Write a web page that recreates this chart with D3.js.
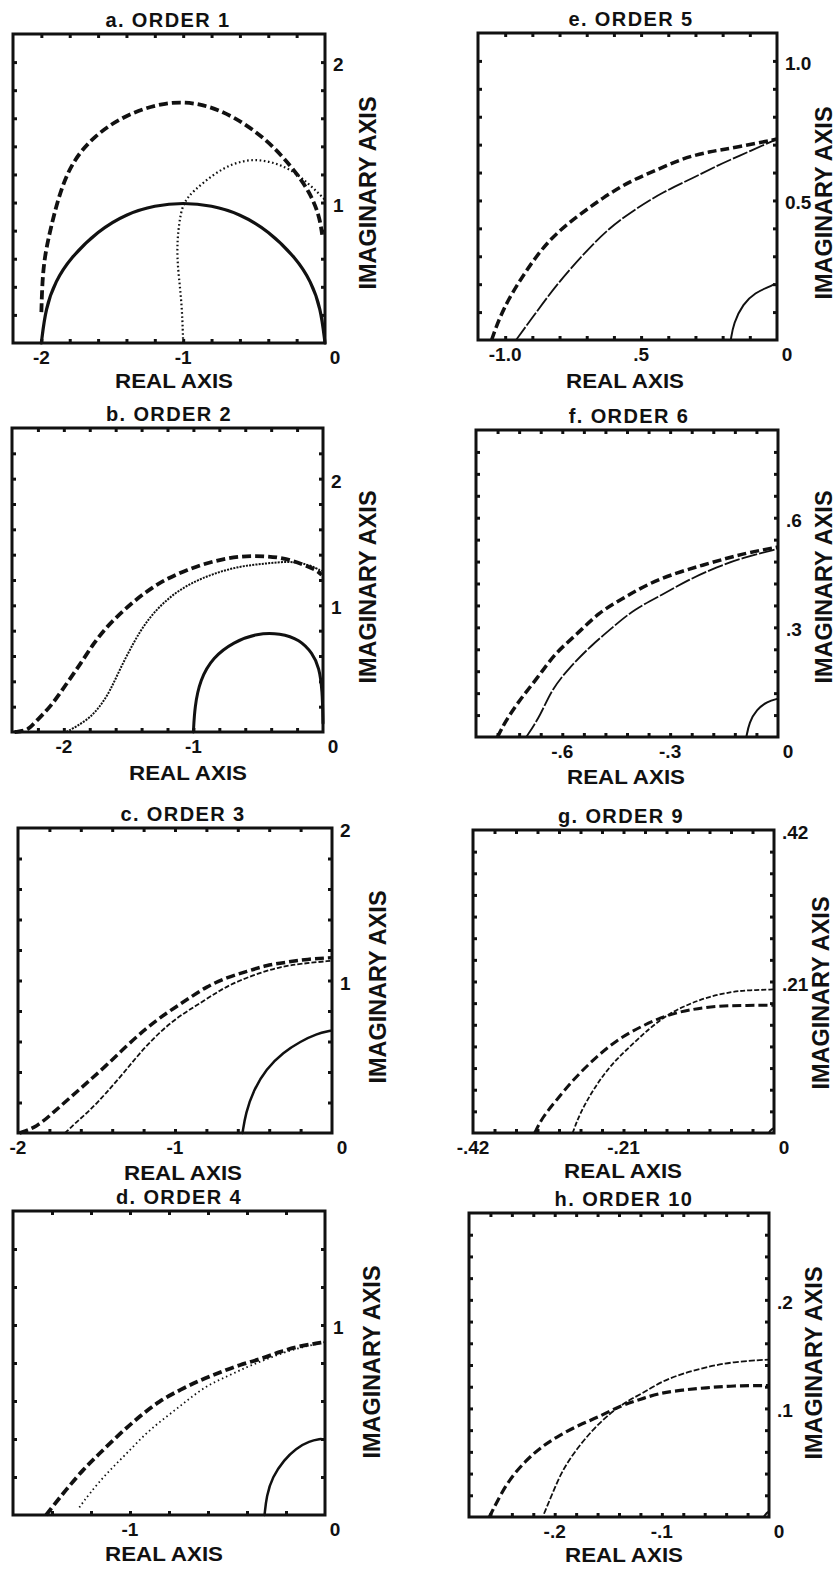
<!DOCTYPE html>
<html>
<head>
<meta charset="utf-8">
<script src="https://cdn.jsdelivr.net/npm/d3@7"></script>
<style>
  body { margin: 0; background: #fff; }
  svg text { font-family: "Liberation Sans", Arial, sans-serif; font-weight: bold; fill: #111; }
</style>
</head>
<body>
<svg id="chart" width="836" height="1570"></svg>
<script>
/* panel titles, axis extents and labels */
const titles = ["a. ORDER 1", "b. ORDER 2", "c. ORDER 3", "d. ORDER 4",
                "e. ORDER 5", "f. ORDER 6", "g. ORDER 9", "h. ORDER 10"];
const extents = [2.2, 2.4, 2, 1.6, 1.1, 0.84, 0.42, 0.28];
const minorSteps = [0.2, 0.2, 0.2, 0.2, 0.1, 0.06, 0.03, 0.02];
const xTickValues = [[-2, -1, 0], [-2, -1, 0], [-2, -1, 0], [-1, 0],
                     [-1, -0.5, 0], [-0.6, -0.3, 0], [-0.42, -0.21, 0], [-0.2, -0.1, 0]];
const xTickLabels = [["-2", "-1", "0"], ["-2", "-1", "0"], ["-2", "-1", "0"], ["-1", "0"],
                     ["-1.0", ".5", "0"], ["-.6", "-.3", "0"], ["-.42", "-.21", "0"], ["-.2", "-.1", "0"]];
const yTickValues = [[1, 2], [1, 2], [1, 2], [1], [0.5, 1.0], [0.3, 0.6], [0.21, 0.42], [0.1, 0.2]];
const yTickLabels = [["1", "2"], ["1", "2"], ["1", "2"], ["1"], ["0.5", "1.0"], [".3", ".6"], [".21", ".42"], [".1", ".2"]];

/* curves: [real, imaginary] */
const aDashed = [[-2.0, 0.22], [-1.99, 0.55], [-1.94, 0.8], [-1.83, 1.23], [-1.64, 1.47], [-1.4, 1.63],
  [-1.12, 1.72], [-0.88, 1.71], [-0.65, 1.62], [-0.41, 1.45], [-0.23, 1.25], [-0.11, 1.08], [-0.04, 0.91], [-0.02, 0.77]];
const aDotted = [[-1.0, 0], [-1.01, 0.31], [-1.05, 0.62], [-1.03, 0.86], [-1.0, 1.0], [-0.93, 1.08], [-0.79, 1.2],
  [-0.65, 1.28], [-0.51, 1.31], [-0.37, 1.29], [-0.23, 1.23], [-0.11, 1.13], [0, 1.02]];
const aSolid = [[-2.0, 0], [-1.97, 0.25], [-1.9, 0.44], [-1.8, 0.6], [-1.6, 0.8], [-1.4, 0.92], [-1.2, 0.98],
  [-1.0, 1.0], [-0.8, 0.98], [-0.6, 0.92], [-0.4, 0.8], [-0.2, 0.6], [-0.1, 0.44], [-0.03, 0.25], [0, 0]];

const bDashed = [[-2.38, 0], [-2.28, 0.01], [-2.23, 0.07], [-2.1, 0.2], [-1.98, 0.38], [-1.87, 0.54], [-1.77, 0.7],
  [-1.67, 0.83], [-1.54, 0.96], [-1.39, 1.09], [-1.23, 1.2], [-1.05, 1.28], [-0.85, 1.35], [-0.64, 1.39],
  [-0.44, 1.39], [-0.28, 1.37], [-0.15, 1.32], [-0.05, 1.28], [-0.01, 1.24]];
const bDotted = [[-1.98, 0], [-1.82, 0.09], [-1.72, 0.2], [-1.64, 0.33], [-1.57, 0.49], [-1.49, 0.65], [-1.41, 0.8],
  [-1.31, 0.94], [-1.18, 1.07], [-1.03, 1.17], [-0.85, 1.25], [-0.64, 1.31], [-0.44, 1.33], [-0.26, 1.35],
  [-0.1, 1.32], [-0.01, 1.27]];
const bSolid = [[-1.0, 0], [-0.99, 0.2], [-0.95, 0.41], [-0.85, 0.59], [-0.69, 0.71], [-0.51, 0.78], [-0.33, 0.78],
  [-0.18, 0.73], [-0.08, 0.62], [-0.03, 0.51], [-0.005, 0.33], [0, 0.07]];

const cDashed = [[-1.99, 0], [-1.88, 0.04], [-1.78, 0.13], [-1.67, 0.23], [-1.56, 0.33], [-1.44, 0.44], [-1.31, 0.57],
  [-1.18, 0.69], [-1.05, 0.79], [-0.93, 0.87], [-0.8, 0.96], [-0.67, 1.02], [-0.54, 1.06], [-0.42, 1.1],
  [-0.29, 1.12], [-0.16, 1.14], [0, 1.15]];
const cDotted = [[-1.7, 0], [-1.63, 0.07], [-1.54, 0.15], [-1.44, 0.26], [-1.33, 0.39], [-1.22, 0.53], [-1.1, 0.66],
  [-0.97, 0.77], [-0.84, 0.85], [-0.71, 0.94], [-0.59, 1.0], [-0.46, 1.05], [-0.33, 1.09], [-0.2, 1.11], [0, 1.13]];
const cSolid = [[-0.57, 0], [-0.55, 0.13], [-0.5, 0.28], [-0.42, 0.42], [-0.31, 0.53], [-0.2, 0.6], [-0.1, 0.65], [-0.01, 0.67]];

const dDashed = [[-1.43, 0], [-1.4, 0.04], [-1.33, 0.13], [-1.24, 0.24], [-1.16, 0.32], [-1.05, 0.43], [-0.95, 0.52],
  [-0.85, 0.6], [-0.74, 0.66], [-0.64, 0.71], [-0.54, 0.75], [-0.44, 0.79], [-0.33, 0.82], [-0.23, 0.86],
  [-0.13, 0.89], [0, 0.91]];
const dDotted = [[-1.26, 0.04], [-1.21, 0.11], [-1.12, 0.22], [-1.02, 0.32], [-0.92, 0.43], [-0.81, 0.52], [-0.71, 0.6],
  [-0.61, 0.68], [-0.5, 0.73], [-0.4, 0.78], [-0.3, 0.82], [-0.2, 0.86], [-0.09, 0.89], [0, 0.91]];
const dSolid = [[-0.31, 0], [-0.3, 0.1], [-0.27, 0.2], [-0.21, 0.29], [-0.15, 0.35], [-0.08, 0.39], [-0.02, 0.4]];

const eDashed = [[-1.05, 0], [-1.01, 0.11], [-0.93, 0.24], [-0.84, 0.36], [-0.74, 0.44], [-0.64, 0.51], [-0.54, 0.57],
  [-0.44, 0.61], [-0.35, 0.65], [-0.25, 0.675], [-0.15, 0.69], [0, 0.72]];
const eDotted = [[-0.96, 0], [-0.9, 0.08], [-0.81, 0.2], [-0.71, 0.31], [-0.62, 0.4], [-0.52, 0.47], [-0.42, 0.53],
  [-0.32, 0.575], [-0.22, 0.625], [-0.15, 0.655], [0, 0.72]];
const eSolid = [[-0.17, 0], [-0.16, 0.06], [-0.125, 0.13], [-0.08, 0.17], [-0.03, 0.19], [-0.01, 0.2]];

const fDashed = [[-0.78, 0], [-0.76, 0.04], [-0.72, 0.1], [-0.67, 0.16], [-0.62, 0.23], [-0.56, 0.28], [-0.5, 0.34],
  [-0.43, 0.38], [-0.36, 0.42], [-0.28, 0.45], [-0.21, 0.47], [-0.14, 0.49], [-0.08, 0.505], [0, 0.52]];
const fDotted = [[-0.7, 0], [-0.66, 0.06], [-0.63, 0.13], [-0.58, 0.19], [-0.52, 0.25], [-0.46, 0.3], [-0.4, 0.35],
  [-0.32, 0.39], [-0.25, 0.43], [-0.17, 0.465], [-0.1, 0.49], [0, 0.515]];
const fSolid = [[-0.088, 0], [-0.08, 0.04], [-0.06, 0.075], [-0.03, 0.097], [0, 0.105]];

const gDashed = [[-0.334, 0], [-0.323, 0.022], [-0.304, 0.045], [-0.281, 0.073], [-0.253, 0.101], [-0.22, 0.129],
  [-0.183, 0.149], [-0.151, 0.163], [-0.118, 0.171], [-0.081, 0.176], [-0.044, 0.177], [0, 0.177]];
const gDotted = [[-0.281, 0], [-0.271, 0.027], [-0.253, 0.059], [-0.23, 0.092], [-0.202, 0.119], [-0.174, 0.145],
  [-0.146, 0.166], [-0.118, 0.179], [-0.091, 0.189], [-0.058, 0.196], [-0.035, 0.198], [0, 0.199]];
const gSolid = [[-0.007, 0], [-0.005, 0.004], [0, 0.007]];

const hDashed = [[-0.261, 0], [-0.255, 0.012], [-0.243, 0.034], [-0.227, 0.052], [-0.212, 0.065], [-0.196, 0.075],
  [-0.177, 0.085], [-0.159, 0.092], [-0.14, 0.102], [-0.121, 0.108], [-0.103, 0.114], [-0.081, 0.117],
  [-0.059, 0.119], [-0.034, 0.121], [0, 0.121]];
const hDotted = [[-0.21, 0.003], [-0.202, 0.022], [-0.193, 0.043], [-0.18, 0.062], [-0.165, 0.08], [-0.149, 0.095],
  [-0.134, 0.106], [-0.118, 0.114], [-0.1, 0.125], [-0.081, 0.132], [-0.059, 0.138], [-0.034, 0.143], [0, 0.145]];
const hSolid = [[-0.005, 0], [-0.003, 0.003], [0, 0.005]];

const dashedSeries = [aDashed, bDashed, cDashed, dDashed, eDashed, fDashed, gDashed, hDashed];
const dottedSeries = [aDotted, bDotted, cDotted, dDotted, eDotted, fDotted, gDotted, hDotted];
const solidSeries = [aSolid, bSolid, cSolid, dSolid, eSolid, fSolid, gSolid, hSolid];

/* layout: box = [left, top, width, height] */
const layout = [
  { box: [13, 34, 312, 309], titleX: 168, realX: 174, realY: 388, imagX: 368, imagY: 193, dot: "1.6,2.6", dotW: 2.2, solidW: 3.2, dashW: 3.8 },
  { box: [12, 428, 311, 304], titleX: 169, realX: 188, realY: 780, imagX: 368, imagY: 587, dot: "2,1.2", dotW: 2, solidW: 3, dashW: 3.8 },
  { box: [18, 828, 314, 305], titleX: 183, realX: 183, realY: 1180, imagX: 378, imagY: 987, dot: "5,2", dotW: 1.8, solidW: 2.5, dashW: 3.5 },
  { box: [13, 1211, 312, 304], titleX: 179, realX: 164, realY: 1561, imagX: 372, imagY: 1362, dot: "1.5,3", dotW: 1.8, solidW: 2.5, dashW: 3.8 },
  { box: [478, 33, 299, 307], titleX: 631, realX: 625, realY: 388, imagX: 824, imagY: 203, dot: "16,2", dotW: 1.8, solidW: 2, dashW: 3.5 },
  { box: [476, 430, 302, 307], titleX: 629, realX: 626, realY: 784, imagX: 824, imagY: 587, dot: "16,2", dotW: 1.8, solidW: 2, dashW: 3.5 },
  { box: [473, 830, 301, 303], titleX: 621, realX: 623, realY: 1178, imagX: 821, imagY: 993, dot: "5,2", dotW: 1.8, solidW: 2, dashW: 3 },
  { box: [469, 1213, 300, 304], titleX: 624, realX: 624, realY: 1562, imagX: 814, imagY: 1363, dot: "6,2", dotW: 1.8, solidW: 2, dashW: 3.2 },
];

const svg = d3.select("#chart");
const ink = "#111";

const line = (x, y) => d3.line()
  .x((d) => x(d[0]))
  .y((d) => y(d[1]))
  .curve(d3.curveBasis);

layout.forEach((L, i) => {
  const [bx, by, bw, bh] = L.box;
  const ext = extents[i];
  const step = minorSteps[i];
  const x = d3.scaleLinear().domain([-ext, 0]).range([bx, bx + bw]);
  const y = d3.scaleLinear().domain([0, ext]).range([by + bh, by]);
  const g = svg.append("g");

  const n = Math.round(ext / step);
  const xMinor = d3.range(1, n).map((k) => -ext + k * step);
  const yMinor = d3.range(1, n).map((k) => k * step);

  // small inward ticks on all four sides
  const sides = [
    [d3.axisBottom(x).tickValues(xMinor), `translate(0,${by + bh})`],
    [d3.axisTop(x).tickValues(xMinor), `translate(0,${by})`],
    [d3.axisLeft(y).tickValues(yMinor), `translate(${bx},0)`],
    [d3.axisRight(y).tickValues(yMinor), `translate(${bx + bw},0)`],
  ];
  sides.forEach(([axis, tr]) => {
    g.append("g")
      .attr("transform", tr)
      .call(axis.tickSize(-4).tickFormat(""))
      .call((s) => s.select(".domain").remove())
      .call((s) => s.selectAll(".tick line").attr("stroke", ink).attr("stroke-width", 3));
  });

  // frame
  g.append("rect")
    .attr("x", bx).attr("y", by).attr("width", bw).attr("height", bh)
    .attr("fill", "none").attr("stroke", ink).attr("stroke-width", 3);

  // curves
  const lg = line(x, y);
  g.append("path").attr("d", lg(solidSeries[i]))
    .attr("fill", "none").attr("stroke", ink).attr("stroke-width", L.solidW)
    .attr("stroke-linecap", "round");
  g.append("path").attr("d", lg(dottedSeries[i]))
    .attr("fill", "none").attr("stroke", ink).attr("stroke-width", L.dotW)
    .attr("stroke-dasharray", L.dot);
  g.append("path").attr("d", lg(dashedSeries[i]))
    .attr("fill", "none").attr("stroke", ink).attr("stroke-width", L.dashW)
    .attr("stroke-dasharray", "9,4");

  // tick labels
  g.selectAll(".xl").data(xTickValues[i]).join("text")
    .attr("x", (d) => x(d) + (d === 0 ? 10 : 0))
    .attr("y", by + bh + 21)
    .attr("text-anchor", "middle")
    .attr("font-size", 19)
    .text((d, k) => xTickLabels[i][k]);
  g.selectAll(".yl").data(yTickValues[i]).join("text")
    .attr("x", bx + bw + 8)
    .attr("y", (d) => y(d) + 9)
    .attr("text-anchor", "start")
    .attr("font-size", 19)
    .text((d, k) => yTickLabels[i][k]);

  // titles
  g.append("text")
    .attr("x", L.titleX).attr("y", by - 7)
    .attr("text-anchor", "middle").attr("font-size", 20)
    .attr("letter-spacing", 1.4)
    .text(titles[i]);
  g.append("text")
    .attr("x", L.realX).attr("y", L.realY)
    .attr("text-anchor", "middle").attr("font-size", 20)
    .attr("textLength", 118).attr("lengthAdjust", "spacingAndGlyphs")
    .text("REAL AXIS");
  g.append("text")
    .attr("transform", `translate(${L.imagX + 8},${L.imagY}) rotate(-90)`)
    .attr("text-anchor", "middle").attr("font-size", 23)
    .attr("textLength", 193).attr("lengthAdjust", "spacingAndGlyphs")
    .text("IMAGINARY AXIS");
});
</script>
</body>
</html>
